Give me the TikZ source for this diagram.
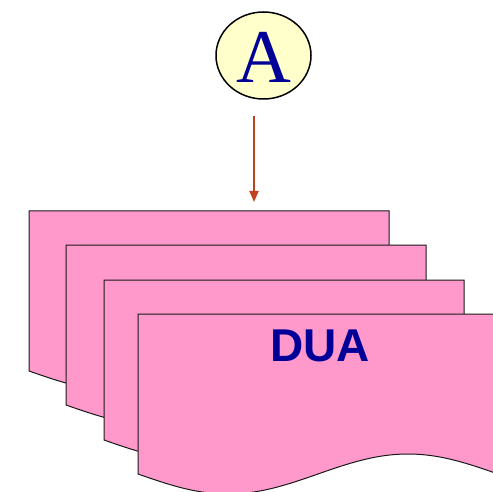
\documentclass[tikz,border=0pt]{standalone}
\usepackage{fontspec}
\setmainfont{Liberation Serif}
\newfontfamily\arialfont{Liberation Sans}
\usetikzlibrary{arrows.meta,shapes.geometric}
\definecolor{docpink}{RGB}{255,153,204}
\definecolor{circyellow}{RGB}{255,255,204}
\definecolor{textblue}{RGB}{0,0,153}
\definecolor{arrowred}{RGB}{192,64,32}
\tikzset{
  docpage/.style={fill=docpink, draw=black!90, line width=1pt, line join=miter},
  circnode/.style={ellipse, draw=black, line width=1.5pt, fill=circyellow, minimum width=95pt, minimum height=87pt, inner sep=0pt, text=textblue, font=\fontsize{76}{76}\selectfont},
  arrowline/.style={draw=arrowred, line width=2pt, -{Triangle[length=11pt,width=9pt]}},
  dualabel/.style={text=textblue, font=\arialfont\bfseries\fontsize{46}{46}\selectfont, inner sep=0pt}
}
\newcommand{\docsheet}[2]{%
  \filldraw[docpage] (#1,-#2) -- ++(360,0) -- ++(0,-160)
    -- plot[domain=360:0, samples=73, smooth] ({#1+\x}, {-#2-160-20*sin(\x)}) -- cycle;}
\begin{document}
\begin{tikzpicture}[x=1pt,y=1pt]
\useasboundingbox (0,0) rectangle (493,-492);
\clip (0,0) rectangle (493,-492);
\docsheet{29}{211}
\docsheet{66}{245}
\docsheet{104}{280}
\docsheet{138}{314}
\node[dualabel] (dua) at (320,-345.5) {DUA};
\node[circnode] (a) at (263.5,-55.5) {};
\node[text=textblue, font=\fontsize{76}{76}\selectfont, inner sep=0pt] (atext) at (263.5,-57.5) {A};
\coordinate (arrstart) at (254,-116);
\coordinate (arrend) at (254,-202);
\draw[arrowline] (arrstart) -- (arrend);
\end{tikzpicture}
\end{document}
